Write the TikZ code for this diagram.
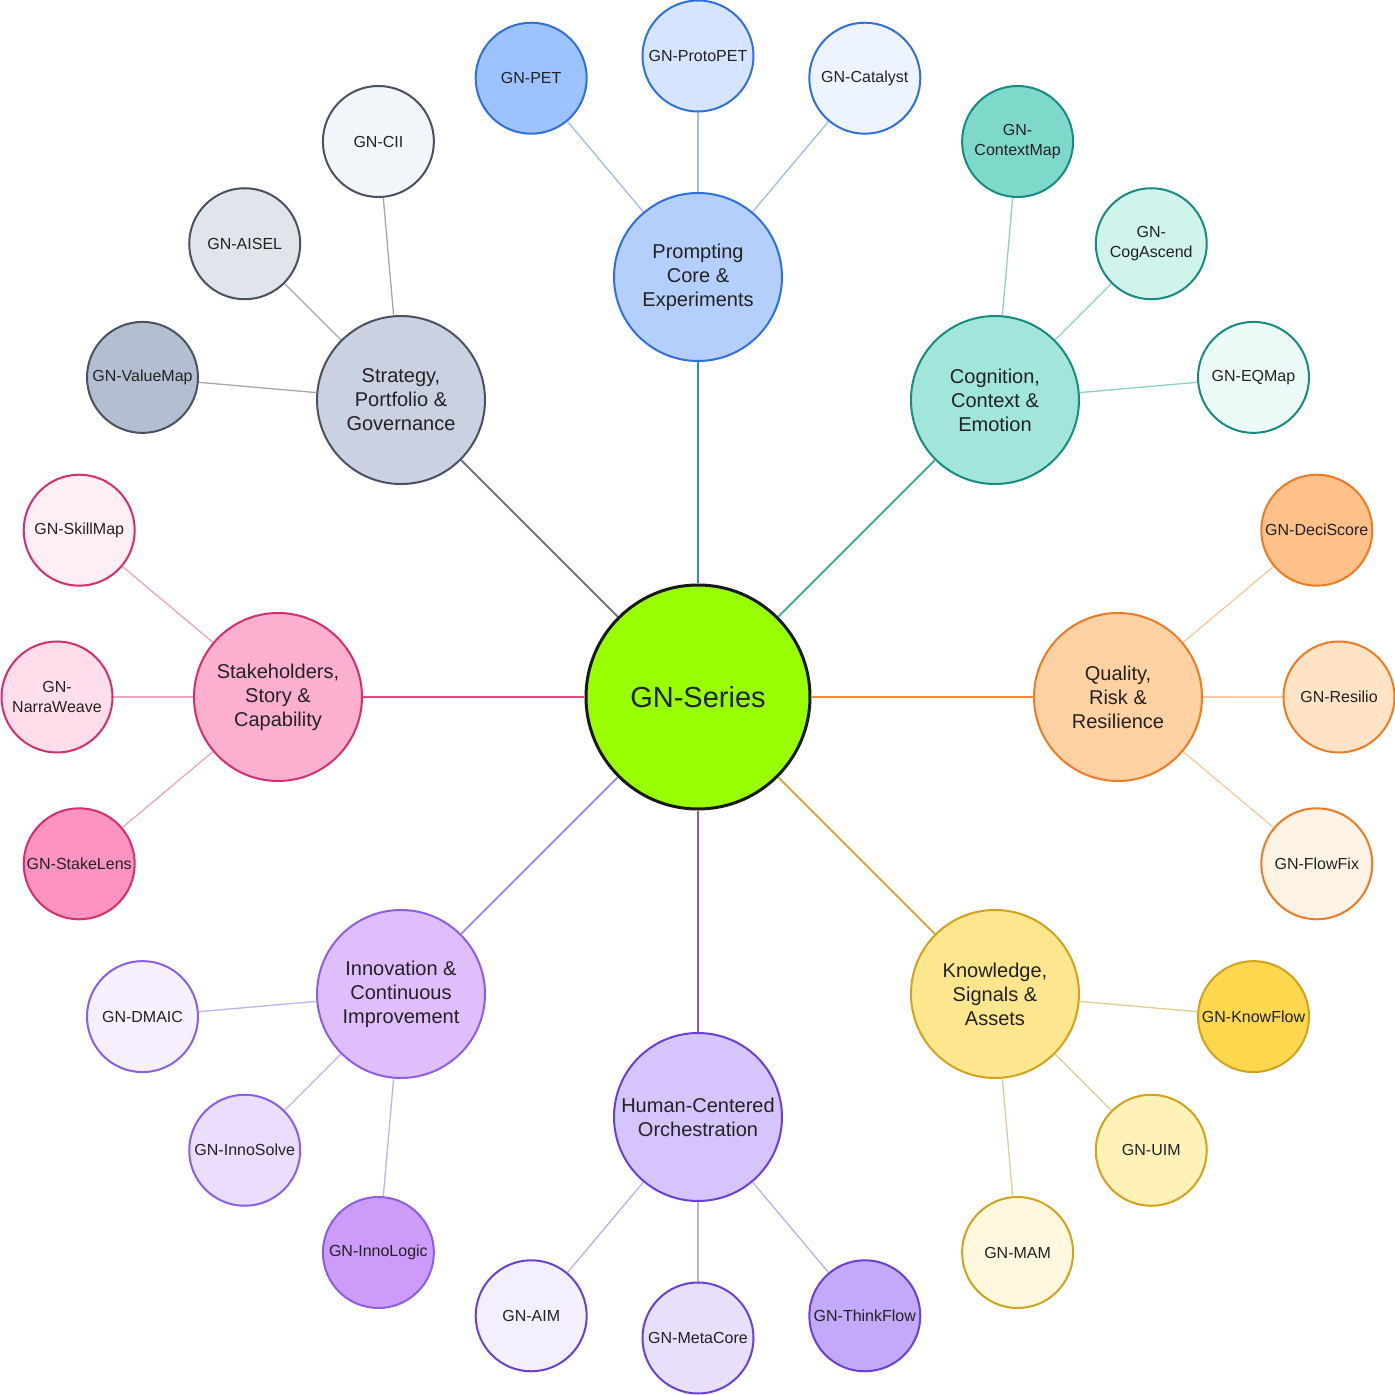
\documentclass[tikz,border=0pt]{standalone}
\usepackage{fontspec}
\setmainfont{Liberation Sans}
\usetikzlibrary{calc,backgrounds}
\definecolor{txt}{HTML}{222222}
% blue
\definecolor{bS}{HTML}{2F6FDE}\definecolor{bC}{HTML}{B4CFFC}\definecolor{bA}{HTML}{9CC3FF}\definecolor{bB}{HTML}{D5E5FF}\definecolor{bD}{HTML}{EEF4FF}\definecolor{bE}{HTML}{9DBDEE}\definecolor{bM}{HTML}{3C82D0}
% teal
\definecolor{tS}{HTML}{168C80}\definecolor{tC}{HTML}{A2E6DB}\definecolor{tA}{HTML}{7FD9CB}\definecolor{tB}{HTML}{D0F3EC}\definecolor{tD}{HTML}{EBFAF7}\definecolor{tE}{HTML}{8CD0C5}\definecolor{tM}{HTML}{3FAF98}
% orange
\definecolor{oS}{HTML}{F07A22}\definecolor{oC}{HTML}{FFD1A3}\definecolor{oA}{HTML}{FFC08A}\definecolor{oB}{HTML}{FFE3C7}\definecolor{oD}{HTML}{FFF3E6}\definecolor{oE}{HTML}{F9C8A0}\definecolor{oM}{HTML}{F5893A}
% yellow
\definecolor{yS}{HTML}{D4A21A}\definecolor{yC}{HTML}{FDE68E}\definecolor{yA}{HTML}{FDD84F}\definecolor{yB}{HTML}{FEF2B9}\definecolor{yD}{HTML}{FFF8DF}\definecolor{yE}{HTML}{E3CC90}\definecolor{yM}{HTML}{D7A93A}
% human purple
\definecolor{hS}{HTML}{6B3FD6}\definecolor{hC}{HTML}{D6C5FD}\definecolor{hA}{HTML}{C2A9F9}\definecolor{hB}{HTML}{E8DFFD}\definecolor{hD}{HTML}{F3EFFE}\definecolor{hE}{HTML}{BCAEEE}\definecolor{hM}{HTML}{9450C8}
% innovation purple
\definecolor{iS}{HTML}{8B5EE8}\definecolor{iC}{HTML}{E0BEFC}\definecolor{iA}{HTML}{CD9CFA}\definecolor{iB}{HTML}{EBDDFD}\definecolor{iD}{HTML}{F6F0FE}\definecolor{iE}{HTML}{BEB2F0}\definecolor{iM}{HTML}{A48BF2}
% pink
\definecolor{pS}{HTML}{D62D70}\definecolor{pC}{HTML}{FDAFD0}\definecolor{pA}{HTML}{FD93C1}\definecolor{pB}{HTML}{FFDDEB}\definecolor{pD}{HTML}{FFEFF5}\definecolor{pE}{HTML}{ECA4C0}\definecolor{pM}{HTML}{E14A82}
% gray
\definecolor{gS}{HTML}{4A5160}\definecolor{gC}{HTML}{CAD2E1}\definecolor{gA}{HTML}{B4BED1}\definecolor{gB}{HTML}{E0E4EB}\definecolor{gD}{HTML}{F2F5F9}\definecolor{gE}{HTML}{A3A6AD}\definecolor{gM}{HTML}{70757F}
\tikzset{
  hub/.style={circle,draw=black!90,line width=3pt,fill={rgb,255:red,153;green,255;blue,0},minimum size=224pt,inner sep=0pt,text=txt,font=\fontsize{29}{34}\selectfont},
  cat/.style={circle,line width=2pt,minimum size=168pt,inner sep=0pt,text=txt,align=center,font=\fontsize{20}{24}\selectfont},
  leaf/.style={circle,line width=2pt,minimum size=111pt,inner sep=0pt,text=txt,align=center,font=\fontsize{16}{19.5}\selectfont},
  mainedge/.style={line width=2pt},
  leafedge/.style={line width=1.3pt}
}
\begin{document}
\begin{tikzpicture}[x=1pt,y=1pt]
\useasboundingbox (-698,-698) rectangle (697,697);
% hub
\node[hub] (hub) at (0,0) {GN-Series};
% categories
\node[cat,draw=bS,fill=bC] (prompt) at (90:420) {Prompting\\Core \&\\Experiments};
\node[cat,draw=tS,fill=tC] (cog) at (45:420) {Cognition,\\Context \&\\Emotion};
\node[cat,draw=oS,fill=oC] (qual) at (0:420) {Quality,\\Risk \&\\Resilience};
\node[cat,draw=yS,fill=yC] (know) at (-45:420) {Knowledge,\\Signals \&\\Assets};
\node[cat,draw=hS,fill=hC] (human) at (-90:420) {Human-Centered\\Orchestration};
\node[cat,draw=iS,fill=iC] (innov) at (-135:420) {Innovation \&\\Continuous\\Improvement};
\node[cat,draw=pS,fill=pC] (stake) at (180:420) {Stakeholders,\\Story \&\\Capability};
\node[cat,draw=gS,fill=gC] (strat) at (135:420) {Strategy,\\Portfolio \&\\Governance};
% leaves: prompting
\node[leaf,draw=bS,fill=bA] (pet) at ($(prompt)+(130:259.5)$) {GN-PET};
\node[leaf,draw=bS,fill=bB] (proto) at ($(prompt)+(90:221)$) {GN-ProtoPET};
\node[leaf,draw=bS,fill=bD] (catal) at ($(prompt)+(50:259.5)$) {GN-Catalyst};
% cognition
\node[leaf,draw=tS,fill=tA] (ctx) at ($(cog)+(85:259.5)$) {GN-\\ContextMap};
\node[leaf,draw=tS,fill=tB] (asc) at ($(cog)+(45:221)$) {GN-\\CogAscend};
\node[leaf,draw=tS,fill=tD] (eq) at ($(cog)+(5:259.5)$) {GN-EQMap};
% quality
\node[leaf,draw=oS,fill=oA] (deci) at ($(qual)+(40:259.5)$) {GN-DeciScore};
\node[leaf,draw=oS,fill=oB] (resil) at ($(qual)+(0:221)$) {GN-Resilio};
\node[leaf,draw=oS,fill=oD] (flow) at ($(qual)+(-40:259.5)$) {GN-FlowFix};
% knowledge
\node[leaf,draw=yS,fill=yA] (kflow) at ($(know)+(-5:259.5)$) {GN-KnowFlow};
\node[leaf,draw=yS,fill=yB] (uim) at ($(know)+(-45:221)$) {GN-UIM};
\node[leaf,draw=yS,fill=yD] (mam) at ($(know)+(-85:259.5)$) {GN-MAM};
% human
\node[leaf,draw=hS,fill=hA] (think) at ($(human)+(-50:259.5)$) {GN-ThinkFlow};
\node[leaf,draw=hS,fill=hB] (meta) at ($(human)+(-90:221)$) {GN-MetaCore};
\node[leaf,draw=hS,fill=hD] (aim) at ($(human)+(-130:259.5)$) {GN-AIM};
% innovation
\node[leaf,draw=iS,fill=iA] (ilogic) at ($(innov)+(-95:259.5)$) {GN-InnoLogic};
\node[leaf,draw=iS,fill=iB] (isolve) at ($(innov)+(-135:221)$) {GN-InnoSolve};
\node[leaf,draw=iS,fill=iD] (dmaic) at ($(innov)+(-175:259.5)$) {GN-DMAIC};
% stakeholders
\node[leaf,draw=pS,fill=pA] (slens) at ($(stake)+(220:259.5)$) {GN-StakeLens};
\node[leaf,draw=pS,fill=pB] (narra) at ($(stake)+(180:221)$) {GN-\\NarraWeave};
\node[leaf,draw=pS,fill=pD] (skill) at ($(stake)+(140:259.5)$) {GN-SkillMap};
% strategy
\node[leaf,draw=gS,fill=gA] (value) at ($(strat)+(175:259.5)$) {GN-ValueMap};
\node[leaf,draw=gS,fill=gB] (aisel) at ($(strat)+(135:221)$) {GN-AISEL};
\node[leaf,draw=gS,fill=gD] (cii) at ($(strat)+(95:259.5)$) {GN-CII};
% edges
\begin{scope}[on background layer]
\fill[white] (-698,-698) rectangle (697,697);
\draw[mainedge,bM] (hub) -- (prompt);
\draw[mainedge,tM] (hub) -- (cog);
\draw[mainedge,oM] (hub) -- (qual);
\draw[mainedge,yM] (hub) -- (know);
\draw[mainedge,hM] (hub) -- (human);
\draw[mainedge,iM] (hub) -- (innov);
\draw[mainedge,pM] (hub) -- (stake);
\draw[mainedge,gM] (hub) -- (strat);
\draw[leafedge,bE] (prompt) -- (pet); \draw[leafedge,bE] (prompt) -- (proto); \draw[leafedge,bE] (prompt) -- (catal);
\draw[leafedge,tE] (cog) -- (ctx); \draw[leafedge,tE] (cog) -- (asc); \draw[leafedge,tE] (cog) -- (eq);
\draw[leafedge,oE] (qual) -- (deci); \draw[leafedge,oE] (qual) -- (resil); \draw[leafedge,oE] (qual) -- (flow);
\draw[leafedge,yE] (know) -- (kflow); \draw[leafedge,yE] (know) -- (uim); \draw[leafedge,yE] (know) -- (mam);
\draw[leafedge,hE] (human) -- (think); \draw[leafedge,hE] (human) -- (meta); \draw[leafedge,hE] (human) -- (aim);
\draw[leafedge,iE] (innov) -- (ilogic); \draw[leafedge,iE] (innov) -- (isolve); \draw[leafedge,iE] (innov) -- (dmaic);
\draw[leafedge,pE] (stake) -- (slens); \draw[leafedge,pE] (stake) -- (narra); \draw[leafedge,pE] (stake) -- (skill);
\draw[leafedge,gE] (strat) -- (value); \draw[leafedge,gE] (strat) -- (aisel); \draw[leafedge,gE] (strat) -- (cii);
\end{scope}
\end{tikzpicture}
\end{document}
